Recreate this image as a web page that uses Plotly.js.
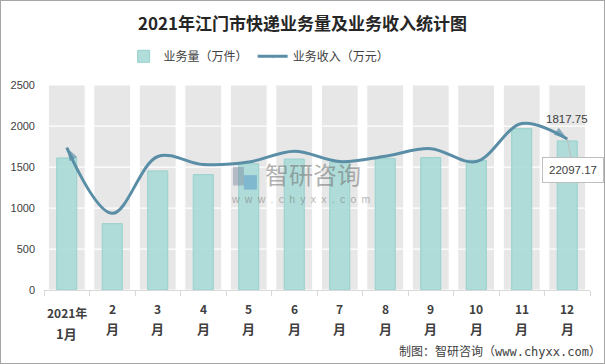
<!DOCTYPE html>
<html><head><meta charset="utf-8">
<script src="https://cdn.plot.ly/plotly-3.0.1.min.js"></script>
<style>
html,body{margin:0;padding:0;background:#fff;}
#wrap{position:relative;width:605px;height:364px;}
#chart{width:605px;height:364px;}
#frame{position:absolute;left:0;top:0;width:605px;height:364px;box-sizing:border-box;border:1px solid #a6a6a6;pointer-events:none;}
</style></head>
<body><div id="wrap"><div id="chart"></div><div id="frame"></div></div>
<script>
const categories = ['1月','2月','3月','4月','5月','6月','7月','8月','9月','10月','11月','12月'];
const tickTop = ['2021年','2','3','4','5','6','7','8','9','10','11','12'];
const tickBottom = ['1月','月','月','月','月','月','月','月','月','月','月','月'];
const volume = [1610, 809, 1452, 1407, 1540, 1597, 1557, 1602, 1614, 1582, 1967, 1817.75];
const revenue = [1736, 935, 1628, 1530, 1560, 1692, 1566, 1632, 1724, 1566, 2030, 1842];
const yTicks = [0, 500, 1000, 1500, 2000, 2500];
const volumeName = '业务量（万件）';
const revenueName = '业务收入（万元）';
const titleText = '2021年江门市快递业务量及业务收入统计图';
const labelTop = '1817.75';
const labelBox = '22097.17';
const footer = '制图：智研咨询（www.chyxx.com）';
const watermark = '智研咨询';
const watermarkUrl = 'www.chyxx.com';

const CJK = '"Noto Sans CJK SC", "Noto Sans", sans-serif';
const traces = [];
for (let k = 0; k < yTicks.length - 1; k++) {
  traces.push({
    type: 'bar', x: categories,
    y: categories.map(() => yTicks[k+1] - yTicks[k]),
    base: categories.map(() => yTicks[k]),
    width: 0.81,
    marker: {color: '#e7e7e7', line: {color: '#ffffff', width: 1}},
    showlegend: false, hoverinfo: 'skip'
  });
}
traces.push({
  type: 'bar', x: categories, y: volume, name: volumeName, width: 0.44,
  marker: {color: 'rgba(168,218,214,0.9)', line: {color: 'rgba(150,208,204,1)', width: 1}}
});
const n = revenue.length;
traces.push({
  type: 'scatter', mode: 'lines+markers', x: categories, y: revenue, name: revenueName,
  line: {color: '#5a8ea6', width: 3, shape: 'spline', smoothing: 1.0},
  marker: {
    color: '#5a8ea6',
    symbol: revenue.map((v, i) => (i === 0 || i === n - 1) ? 'arrow' : 'circle'),
    size: revenue.map((v, i) => (i === 0 || i === n - 1) ? 14 : 0),
    angle: revenue.map((v, i) => i === 0 ? -30 : (i === n - 1 ? 125 : 0)),
    angleref: 'up',
    line: {width: 0}
  }
});

const annotations = [];
categories.forEach((c, i) => {
  const first = i === 0;
  annotations.push({xref: 'x', yref: 'paper', x: c, y: 0, yanchor: 'middle', showarrow: false,
    yshift: first ? -22 : -18, text: '<b>' + tickTop[i] + '</b>',
    font: {family: CJK, size: 12, color: '#404040'}});
  annotations.push({xref: 'x', yref: 'paper', x: c, y: 0, yanchor: 'middle', showarrow: false,
    yshift: first ? -43 : -38, text: '<b>' + tickBottom[i] + '</b>',
    font: {family: CJK, size: 13, color: '#404040'}});
});
annotations.push({xref: 'x', yref: 'y', x: categories[n-1], y: volume[n-1], yanchor: 'bottom', showarrow: false,
  yshift: 14, text: labelTop, font: {family: '"Liberation Sans", Arial, sans-serif', size: 11.5, color: '#404040'}});
annotations.push({xref: 'x', yref: 'y', x: categories[n-1], y: revenue[n-1], showarrow: true,
  ax: 6, ay: 31, arrowhead: 0, arrowcolor: '#bfbfbf', arrowwidth: 1, text: labelBox,
  bgcolor: '#ffffff', bordercolor: '#bfbfbf', borderwidth: 1, borderpad: 6,
  font: {family: '"Liberation Sans", Arial, sans-serif', size: 11.5, color: '#404040'}});
// watermark
annotations.push({xref: 'paper', yref: 'paper', x: 0.403, y: 0.570, xanchor: 'left', yanchor: 'middle', showarrow: false,
  borderpad: 0, text: watermark, font: {family: CJK, size: 24, color: 'rgba(110,110,110,0.55)'}});
annotations.push({xref: 'paper', yref: 'paper', x: 0.34, y: 0.445, xanchor: 'left', yanchor: 'middle', showarrow: false,
  borderpad: 0, text: watermarkUrl.split('').join('\u2002'), font: {family: '"Liberation Sans", Arial, sans-serif', size: 10.5, color: 'rgba(110,110,110,0.5)'}});
// footer
annotations.push({xref: 'paper', yref: 'paper', x: 1.024, y: -0.30, xanchor: 'right', yanchor: 'middle', showarrow: false,
  text: footer, font: {family: '"DejaVu Sans Mono", "Noto Sans CJK SC", monospace', size: 12, color: '#404040'}});

const shapes = [
  {type: 'rect', xref: 'paper', yref: 'paper', x0: 0.346, x1: 0.366, y0: 0.51, y1: 0.60, line: {width: 0}, fillcolor: 'rgba(120,130,160,0.45)', layer: 'above'},
  {type: 'rect', xref: 'paper', yref: 'paper', x0: 0.366, x1: 0.390, y0: 0.49, y1: 0.56, line: {width: 0}, fillcolor: 'rgba(70,140,200,0.45)', layer: 'above'}
];

const layout = {
  width: 605, height: 364,
  margin: {l: 44, r: 15, t: 85, b: 74},
  paper_bgcolor: '#ffffff', plot_bgcolor: '#ffffff',
  barmode: 'overlay', bargap: 0.19,
  title: {text: '<b>' + titleText + '</b>', x: 0.5, xanchor: 'center', y: 0.934, yanchor: 'middle',
    font: {family: CJK, size: 17, color: '#262626'}},
  showlegend: true,
  legend: {orientation: 'h', x: 0.394, xanchor: 'center', y: 1.14, yanchor: 'middle',
    font: {family: CJK, size: 12, color: '#404040'}, itemwidth: 30, tracegroupgap: 0,
    traceorder: 'normal', bgcolor: 'rgba(0,0,0,0)'},
  xaxis: {type: 'category', showticklabels: false, showgrid: false, zeroline: false,
    showline: true, linecolor: '#d9d9d9', linewidth: 1,
    ticks: 'outside', tickson: 'boundaries', ticklen: 5, tickcolor: '#d9d9d9',
    range: [-0.5, n - 0.5], fixedrange: true},
  yaxis: {range: [0, 2500], tickvals: yTicks, showgrid: false, zeroline: false, showline: false,
    tickfont: {family: '"Liberation Sans", Arial, sans-serif', size: 11, color: '#404040'},
    ticks: '', ticklabelstandoff: 8, fixedrange: true},
  annotations: annotations, shapes: shapes
};
Plotly.newPlot('chart', traces, layout, {displayModeBar: false, staticPlot: true});
</script>
</body></html>
